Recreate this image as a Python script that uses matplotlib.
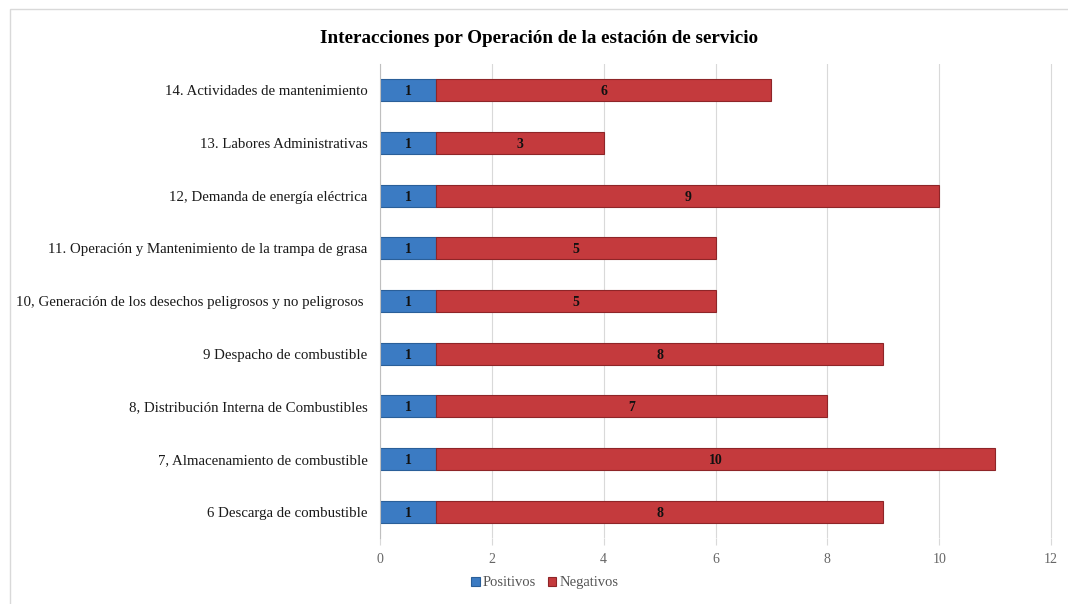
import matplotlib.pyplot as plt
from matplotlib.patches import Rectangle

plt.rcParams['font.family'] = ['Liberation Serif', 'DejaVu Serif']

categories = [
    "6 Descarga de combustible",
    "7, Almacenamiento de combustible",
    "8, Distribución Interna de Combustibles",
    "9 Despacho de combustible",
    "10, Generación de los desechos peligrosos y no peligrosos ",
    "11. Operación y Mantenimiento de la trampa de grasa",
    "12, Demanda de energía eléctrica",
    "13. Labores Administrativas",
    "14. Actividades de mantenimiento",
]
positivos = [1, 1, 1, 1, 1, 1, 1, 1, 1]
negativos = [8, 10, 7, 8, 5, 5, 9, 3, 6]
xticks = [0, 2, 4, 6, 8, 10, 12]

fig = plt.figure(figsize=(10.68, 6.04), dpi=100)
fig.patches.append(Rectangle((10 / 1068, -0.01), 1.02, 1 - 9 / 604 + 0.01,
                             transform=fig.transFigure, fill=False,
                             edgecolor='#d9d9d9', lw=1))
ax = fig.add_axes([0.3558, 0.1093, 0.6284 * 12.1 / 12, 0.7847])

y = list(range(len(categories)))
h = 0.42
b1 = ax.barh(y, positivos, height=h, color='#3b7bc3', edgecolor='#2a5f99', lw=0.8, label='Positivos')
b2 = ax.barh(y, negativos, left=positivos, height=h, color='#c43a3d', edgecolor='#8e2528', lw=0.8, label='Negativos')

for i in y:
    ax.text(positivos[i] / 2, i, str(positivos[i]), ha='center', va='center_baseline',
            fontsize=10, fontweight='bold', color='#111111')
    ax.text(positivos[i] + negativos[i] / 2, i, str(negativos[i]), ha='center', va='center_baseline',
            fontsize=10, fontweight='bold', color='#111111')

ax.set_xlim(0, 12.1)
ax.set_ylim(-0.5, len(categories) - 0.5)
ax.set_xticks(xticks)
ax.set_xticklabels([str(t) for t in xticks], color='#666666', fontsize=10)
ax.set_yticks(y)
ax.set_yticklabels(categories, fontsize=10.7, color='#1a1a1a')
ax.tick_params(axis='y', length=0, pad=9)
ax.tick_params(axis='x', length=5, color='#d9d9d9', pad=6)
ax.grid(axis='x', color='#d9d9d9', lw=0.8)
ax.set_axisbelow(True)
for s in ['top', 'right', 'bottom']:
    ax.spines[s].set_visible(False)
ax.spines['left'].set_color('#bfbfbf')

fig.text(0.505, 0.937, "Interacciones por Operación de la estación de servicio",
         ha='center', va='center', fontsize=13.8, fontweight='bold')

fig.legend(handles=[b1, b2], loc='center', bbox_to_anchor=(0.51, 0.035), ncol=2,
           frameon=False, fontsize=10.5, handlelength=0.6, handleheight=0.6,
           handletextpad=0.2, columnspacing=0.8, labelcolor='#555555')

fig.savefig('out.png', dpi=100)
